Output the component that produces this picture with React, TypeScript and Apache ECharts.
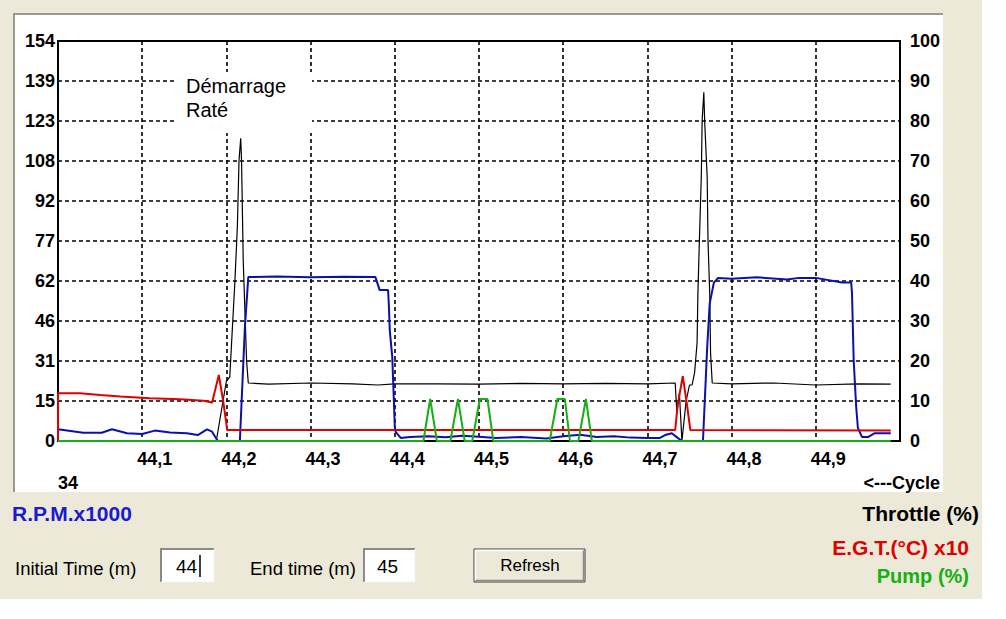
import React, { useEffect, useRef } from "react";
import * as echarts from "echarts";

const FONT = 'Arial, "Liberation Sans", sans-serif';

// Tick labels
const leftTickLabels = ["0", "15", "31", "46", "62", "77", "92", "108", "123", "139", "154"];
const rightTickLabels = ["0", "10", "20", "30", "40", "50", "60", "70", "80", "90", "100"];

// R.P.M. x1000 (left axis) — [time (min), value]
const rpm: number[][] = [
  [44.0, 4.5], [44.03, 3.2], [44.052, 3.2], [44.064, 4.5], [44.082, 3.0], [44.1, 2.7],
  [44.115, 4.0], [44.133, 3.3], [44.153, 3.0], [44.166, 2.3], [44.177, 4.5], [44.183, 3.6],
  [44.189, 0.4], [44.19, 0], [44.216, 0], [44.222, 44], [44.226, 63.1], [44.26, 63.3],
  [44.3, 63.0], [44.34, 63.2], [44.377, 63.1], [44.382, 58.1], [44.392, 58.1], [44.393, 52],
  [44.394, 42.7], [44.397, 32.3], [44.398, 23.5], [44.399, 14.6], [44.4, 5.4], [44.401, 3.5],
  [44.407, 1.2], [44.418, 1.5], [44.44, 1.8], [44.46, 1.4], [44.48, 2.0], [44.5, 1.6],
  [44.52, 1.2], [44.55, 1.5], [44.58, 1.0], [44.6, 1.8], [44.62, 2.4], [44.64, 1.5],
  [44.66, 1.8], [44.68, 1.3], [44.7, 1.2], [44.715, 1.2], [44.721, 2.3], [44.729, 3.0],
  [44.736, 1.2], [44.741, 0], [44.766, 0], [44.771, 36], [44.774, 53], [44.779, 61],
  [44.784, 62.8], [44.8, 62.5], [44.83, 63.0], [44.866, 62.2], [44.88, 62.8], [44.9, 62.8],
  [44.931, 61], [44.942, 61], [44.943, 57], [44.945, 31], [44.948, 13], [44.95, 5],
  [44.955, 1.5], [44.962, 1.5], [44.97, 3], [44.989, 3],
];

// Throttle % (right axis)
const throttle: number[][] = [
  [44.0, 0], [44.188, 0], [44.2, 15.0], [44.204, 16], [44.21, 39.5], [44.213, 53.5],
  [44.215, 70.2], [44.217, 75.7], [44.218, 70], [44.22, 45], [44.224, 20], [44.226, 14.5],
  [44.25, 14.2], [44.3, 14.5], [44.35, 14.3], [44.38, 14.0], [44.4, 14.3], [44.45, 14.3],
  [44.5, 14.2], [44.55, 14.4], [44.6, 14.3], [44.65, 14.4], [44.7, 14.3], [44.733, 14.5],
  [44.735, 7], [44.738, 12], [44.741, 0], [44.746, 10], [44.75, 14], [44.753, 14],
  [44.756, 17], [44.759, 24.5], [44.76, 37], [44.762, 52], [44.764, 66], [44.765, 80],
  [44.767, 87.2], [44.768, 80], [44.771, 66], [44.772, 50], [44.774, 37], [44.775, 22],
  [44.777, 14.5], [44.8, 14.3], [44.85, 14.5], [44.9, 14.0], [44.95, 14.3], [44.989, 14.2],
];

// E.G.T. (°C) x10 (left axis)
const egt: number[][] = [
  [44.0, 0], [44.0, 18.4], [44.026, 18.4], [44.05, 17.7], [44.074, 17.1], [44.109, 16.5],
  [44.145, 16.1], [44.173, 15.5], [44.183, 14.8], [44.191, 25.4], [44.196, 15.8],
  [44.201, 4.2], [44.5, 4.2], [44.733, 4.2], [44.736, 14], [44.742, 25], [44.747, 14],
  [44.751, 4.2], [44.989, 4.0],
];

// Pump % (right axis)
const pump: number[][] = [
  [44.0, 0], [44.434, 0], [44.442, 10.5], [44.45, 0], [44.466, 0], [44.475, 10.5],
  [44.483, 0], [44.492, 0], [44.501, 10.5], [44.51, 10.5], [44.517, 0], [44.584, 0],
  [44.593, 10.5], [44.602, 10.5], [44.608, 0], [44.618, 0], [44.627, 10.5], [44.634, 0],
  [44.989, 0],
];

const txt = (
  text: string, x: number, y: number, fill: string, size: number,
  weight: string = "normal", align: string = "left", z = 20
) => ({
  type: "text", x, y, z,
  style: {
    text, fill, fontSize: size, fontWeight: weight, fontFamily: FONT,
    textAlign: align, textVerticalAlign: "middle",
  },
});

const sunkenBox = (x: number, y: number, w: number, h: number) => [
  { type: "rect", z: 5, shape: { x, y, width: w, height: h }, style: { fill: "#ffffff" } },
  { type: "polyline", z: 6, shape: { points: [[x, y + h], [x, y], [x + w, y]] }, style: { stroke: "#8a8a8a", lineWidth: 2, fill: null } },
  { type: "polyline", z: 6, shape: { points: [[x + w, y], [x + w, y + h], [x, y + h]] }, style: { stroke: "#f4f3ee", lineWidth: 1, fill: null } },
];

export default function App() {
  const ref = useRef<HTMLDivElement>(null);
  useEffect(() => {
    if (!ref.current) return;
    const chart = echarts.init(ref.current, undefined, { renderer: "svg" });
    const axisLabelStyle = { color: "#000", fontSize: 18, fontWeight: "bold", fontFamily: FONT };
    chart.setOption({
      animation: false,
      backgroundColor: "#ffffff",
      grid: { left: 58, top: 41, width: 842, height: 400, show: true, borderColor: "#000", borderWidth: 2, z: 1 },
      xAxis: {
        type: "value", min: 44, max: 45, interval: 0.1,
        axisLine: { show: true, lineStyle: { color: "#000", width: 2 } },
        axisTick: { show: false },
        splitLine: { show: true, lineStyle: { color: "#000", width: 1.6, type: [4, 3] } },
        axisLabel: {
          ...axisLabelStyle, margin: 9, align: "left", padding: [0, 0, 0, -5], showMinLabel: false, showMaxLabel: false,
          formatter: (v: number) => v.toFixed(1).replace(".", ","),
        },
      },
      yAxis: [
        {
          type: "value", position: "left", min: 0, max: 154, interval: 15.4,
          axisLine: { show: true, lineStyle: { color: "#000", width: 2 } },
          axisTick: { show: false },
          splitLine: { show: true, lineStyle: { color: "#000", width: 1.6, type: [4, 3] } },
          axisLabel: { ...axisLabelStyle, margin: 3, formatter: (v: number) => leftTickLabels[Math.round(v / 15.4)] },
        },
        {
          type: "value", position: "right", min: 0, max: 100, interval: 10,
          axisLine: { show: true, lineStyle: { color: "#000", width: 2 } },
          axisTick: { show: false },
          splitLine: { show: false },
          axisLabel: { ...axisLabelStyle, margin: 10, formatter: (v: number) => rightTickLabels[Math.round(v / 10)] },
        },
      ],
      series: [
        { name: "Throttle (%)", type: "line", yAxisIndex: 1, data: throttle, showSymbol: false, lineStyle: { color: "#000", width: 1.2 }, z: 3 },
        { name: "R.P.M.x1000", type: "line", yAxisIndex: 0, data: rpm, showSymbol: false, lineStyle: { color: "#0a10b0", width: 2 }, z: 4 },
        { name: "E.G.T.(°C) x10", type: "line", yAxisIndex: 0, data: egt, showSymbol: false, lineStyle: { color: "#e00000", width: 2 }, z: 5 },
        { name: "Pump (%)", type: "line", yAxisIndex: 1, data: pump, showSymbol: false, lineStyle: { color: "#14b014", width: 2 }, z: 6 },
      ],
      graphic: [
        { type: "rect", z: -100, shape: { x: 0, y: 0, width: 982, height: 599 }, style: { fill: "#ECE9D8" } },
        { type: "rect", z: -90, shape: { x: 14, y: 14, width: 929, height: 478 }, style: { fill: "#ffffff" } },
        { type: "polyline", z: -80, shape: { points: [[14, 492], [14, 14], [943, 14]] }, style: { stroke: "#9a9a94", lineWidth: 2, fill: null } },
        // annotation
        { type: "rect", z: 50, shape: { x: 177, y: 72, width: 135, height: 61 }, style: { fill: "#ffffff" } },
        {
          type: "text", x: 186, y: 74, z: 51,
          style: { text: "Démarrage\nRaté", fill: "#000", fontSize: 20, fontFamily: FONT, lineHeight: 24, textAlign: "left", textVerticalAlign: "top" },
        },
        txt("34", 58, 483, "#000", 18, "bold"),
        txt("<---Cycle", 940, 483, "#000", 18, "bold", "right"),
        txt("R.P.M.x1000", 12, 513, "#1a1ad0", 21, "bold"),
        txt("Throttle (%)", 979, 513, "#000", 21, "bold", "right"),
        txt("E.G.T.(°C) x10", 969, 547, "#e00000", 21, "bold", "right"),
        txt("Pump (%)", 969, 576, "#14b014", 20, "bold", "right"),
        txt("Initial Time (m)", 15, 568, "#000", 18.5),
        ...sunkenBox(161, 549, 53, 33),
        txt("44", 176, 566, "#000", 19),
        { type: "line", z: 8, shape: { x1: 200, y1: 555, x2: 200, y2: 577 }, style: { stroke: "#000", lineWidth: 1.5 } },
        txt("End time (m)", 250, 568, "#000", 18.5),
        ...sunkenBox(364, 549, 51, 33),
        txt("45", 377, 566, "#000", 19),
        // Refresh button
        { type: "rect", z: 5, shape: { x: 474, y: 549, width: 111, height: 33 }, style: { fill: "#ECE9D8", stroke: "#404040", lineWidth: 1 } },
        { type: "polyline", z: 6, shape: { points: [[475.5, 580.5], [475.5, 550.5], [583.5, 550.5]] }, style: { stroke: "#ffffff", lineWidth: 1.5, fill: null } },
        { type: "polyline", z: 6, shape: { points: [[583.5, 550.5], [583.5, 580.5], [475.5, 580.5]] }, style: { stroke: "#8a8a8a", lineWidth: 1.5, fill: null } },
        txt("Refresh", 530, 565, "#000", 17, "normal", "center"),
      ],
    });
    return () => chart.dispose();
  }, []);
  return (
    <div
      ref={ref}
      style={{ position: "fixed", left: 0, top: 0, width: 1006, height: 619, background: "#fff" }}
    />
  );
}
